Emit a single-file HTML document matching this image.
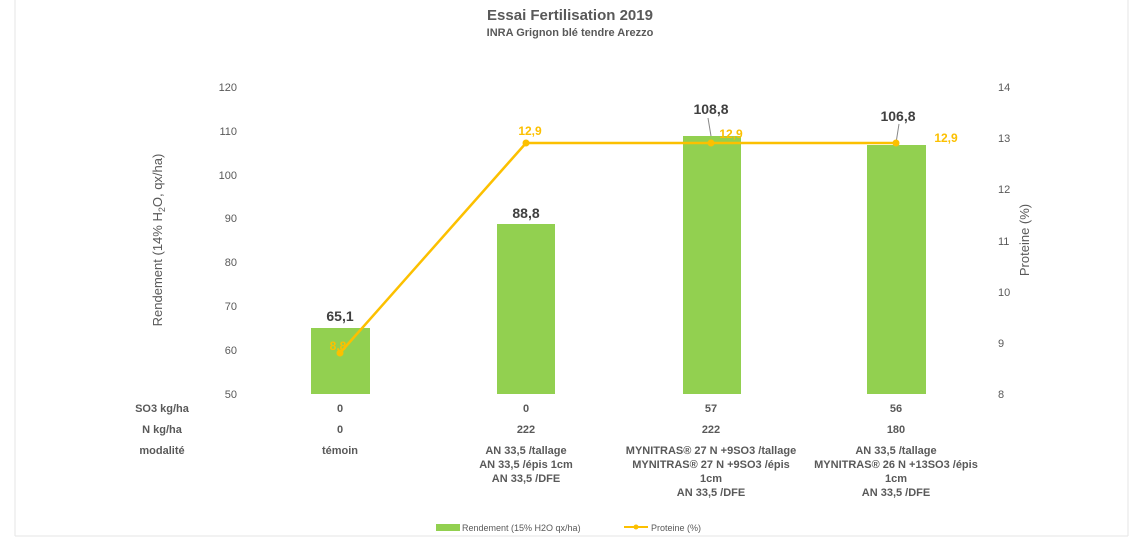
<!DOCTYPE html>
<html><head><meta charset="utf-8"><style>
body{margin:0;background:#fff;}
svg{display:block;font-family:"Liberation Sans",Arial,sans-serif;}
</style></head><body>
<svg width="1140" height="542" xmlns="http://www.w3.org/2000/svg">
<rect x="0" y="0" width="1140" height="542" fill="#fff"/>
<line x1="15" y1="0" x2="15" y2="536" stroke="#e6e6e6"/>
<line x1="1128" y1="0" x2="1128" y2="536" stroke="#e6e6e6"/>
<line x1="15" y1="536" x2="1128" y2="536" stroke="#e6e6e6"/>
<text x="570" y="20" text-anchor="middle" font-size="15" font-weight="bold" fill="#595959">Essai Fertilisation  2019</text>
<text x="570" y="36" text-anchor="middle" font-size="11" font-weight="bold" fill="#595959">INRA Grignon blé tendre Arezzo</text>
<g font-size="11" fill="#595959" text-anchor="end">
<text x="237" y="91">120</text><text x="237" y="135">110</text><text x="237" y="179">100</text>
<text x="237" y="222">90</text><text x="237" y="266">80</text><text x="237" y="310">70</text>
<text x="237" y="354">60</text><text x="237" y="398">50</text>
</g>
<g font-size="11" fill="#595959">
<text x="998" y="91">14</text><text x="998" y="142">13</text><text x="998" y="193">12</text>
<text x="998" y="245">11</text><text x="998" y="296">10</text><text x="998" y="347">9</text><text x="998" y="398">8</text>
</g>
<text transform="translate(162,240) rotate(-90)" text-anchor="middle" font-size="13" fill="#595959">Rendement  (14% H<tspan font-size="9" dy="3">2</tspan><tspan dy="-3">O, qx/ha)</tspan></text>
<text transform="translate(1029,240) rotate(-90)" text-anchor="middle" font-size="13" fill="#595959">Proteine (%)</text>
<g fill="#92d050">
<rect x="311" y="328" width="59" height="66"/>
<rect x="497" y="224" width="58" height="170"/>
<rect x="683" y="136" width="58" height="258"/>
<rect x="867" y="145" width="59" height="249"/>
</g>
<g font-size="14" font-weight="bold" fill="#404040" text-anchor="middle">
<text x="340" y="321">65,1</text><text x="526" y="218">88,8</text>
<text x="711" y="114">108,8</text><text x="898" y="121">106,8</text>
</g>
<line x1="708" y1="118" x2="711" y2="136" stroke="#888"/>
<line x1="899" y1="124" x2="896" y2="143" stroke="#888"/>
<polyline points="340,353 526,143 711,143 896,143" fill="none" stroke="#fcc000" stroke-width="2.5"/>
<g fill="#fcc000"><circle cx="340" cy="353" r="3.5"/><circle cx="526" cy="143" r="3.5"/><circle cx="711" cy="143" r="3.5"/><circle cx="896" cy="143" r="3.5"/></g>
<g font-size="12" font-weight="bold" fill="#fcc000" text-anchor="middle">
<text x="338" y="350">8,8</text><text x="530" y="135">12,9</text><text x="731" y="138">12,9</text><text x="946" y="142">12,9</text>
</g>
<g font-size="11" font-weight="bold" fill="#595959" text-anchor="middle">
<text x="162" y="412">SO3 kg/ha</text><text x="340" y="412">0</text><text x="526" y="412">0</text><text x="711" y="412">57</text><text x="896" y="412">56</text>
<text x="162" y="433">N kg/ha</text><text x="340" y="433">0</text><text x="526" y="433">222</text><text x="711" y="433">222</text><text x="896" y="433">180</text>
<text x="162" y="454">modalité</text><text x="340" y="454">témoin</text>
<text x="526" y="454">AN 33,5 /tallage</text><text x="526" y="468">AN 33,5 /épis 1cm</text><text x="526" y="482">AN 33,5 /DFE</text>
<text x="711" y="454">MYNITRAS® 27 N +9SO3 /tallage</text><text x="711" y="468">MYNITRAS® 27 N +9SO3 /épis</text><text x="711" y="482">1cm</text><text x="711" y="496">AN 33,5 /DFE</text>
<text x="896" y="454">AN 33,5  /tallage</text><text x="896" y="468">MYNITRAS® 26 N +13SO3 /épis</text><text x="896" y="482">1cm</text><text x="896" y="496">AN 33,5 /DFE</text>
</g>
<rect x="436" y="524" width="24" height="7" fill="#92d050"/>
<text x="462" y="531" font-size="9" fill="#595959">Rendement (15% H2O qx/ha)</text>
<line x1="624" y1="527" x2="648" y2="527" stroke="#fcc000" stroke-width="2"/>
<circle cx="636" cy="527" r="2.5" fill="#fcc000"/>
<text x="651" y="531" font-size="9" fill="#595959">Proteine (%)</text>
</svg>
</body></html>
